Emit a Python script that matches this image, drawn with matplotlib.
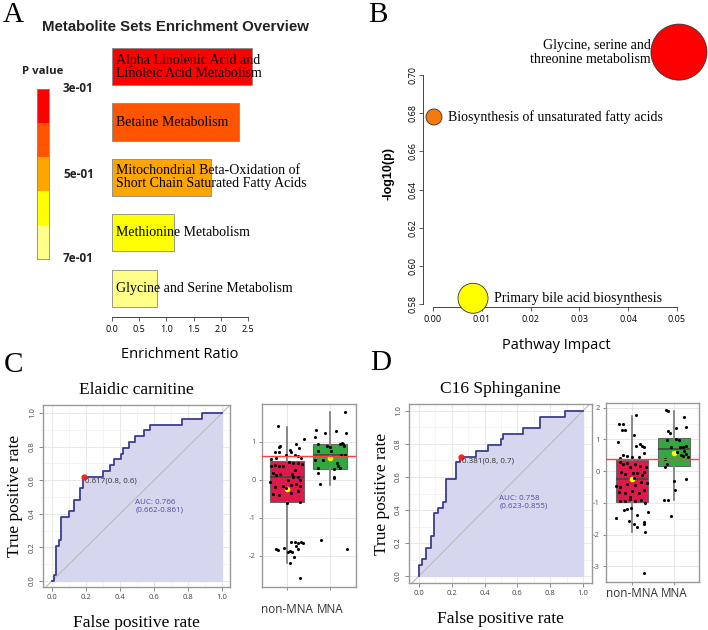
import numpy as np
import matplotlib
matplotlib.use("Agg")
import matplotlib.pyplot as plt
from matplotlib.colors import ListedColormap

SERIF = ["Liberation Serif", "DejaVu Serif"]
SANS = ["Open Sans", "DejaVu Sans"]

# ---- Panel A: enrichment overview
sets_a = ["Alpha Linolenic Acid and\nLinoleic Acid Metabolism",
          "Betaine Metabolism",
          "Mitochondrial Beta-Oxidation of\nShort Chain Saturated Fatty Acids",
          "Methionine Metabolism",
          "Glycine and Serine Metabolism"]
ratio_a = [2.57, 2.33, 1.82, 1.14, 0.83]
colors_a = ["#FF0000", "#FF5500", "#FFA500", "#FFFF00", "#FFFF88"]
pval_labels = ["3e-01", "5e-01", "7e-01"]

# ---- Panel B: pathway impact
paths_b = ["Glycine, serine and\nthreonine metabolism",
           "Biosynthesis of unsaturated fatty acids",
           "Primary bile acid biosynthesis"]
impact_b = [0.0504, 0.0002, 0.0082]
logp_b = [0.712, 0.678, 0.583]
size_b = [1625, 133, 467]
colors_b = ["#FF0000", "#F47A10", "#FFFF00"]

# ---- Panel C / D: ROC curves
fpr_c = [0, 0.01, 0.025, 0.04, 0.055, 0.098, 0.127, 0.167, 0.182, 0.30, 0.343,
         0.363, 0.406, 0.418, 0.451, 0.49, 0.539, 0.578, 0.765, 0.882, 1.0]
tpr_c = [0, 0.034, 0.207, 0.241, 0.379, 0.414, 0.483, 0.552, 0.621, 0.655, 0.690,
         0.724, 0.759, 0.793, 0.828, 0.862, 0.897, 0.931, 0.966, 1.0, 1.0]
fpr_d = [0, 0.0, 0.018, 0.045, 0.075, 0.089, 0.116, 0.146, 0.163, 0.224, 0.248,
         0.35, 0.42, 0.50, 0.512, 0.634, 0.736, 0.888, 1.0]
tpr_d = [0, 0.069, 0.103, 0.172, 0.241, 0.379, 0.414, 0.448, 0.586, 0.690, 0.724,
         0.759, 0.793, 0.828, 0.862, 0.897, 0.966, 1.0, 1.0]
best_c = (0.186, 0.621)
best_d = (0.254, 0.724)

# ---- box plots: (median, q1, q3, whisker low, whisker high, mean)
groups = ["non-MNA", "MNA"]
box_c = [(0.08, -0.59, 0.48, -2.2, 1.39, -0.24), (0.66, 0.29, 0.93, -0.13, 1.78, 0.56)]
box_d = [(-0.23, -0.97, 0.35, -1.91, 1.74, -0.26), (0.71, 0.18, 1.06, -0.91, 1.90, 0.58)]
cut_c = 0.62
cut_d = 0.37

# jittered points (offset from group, value)
pts_c_non = [(-0.22, 1.41), (-0.19, 0.85), (-0.16, 0.89), (-0.19, 0.74), (-0.29, 0.72),
             (-0.38, 0.55), (-0.26, 0.56), (0.06, 0.78), (0.09, 0.73), (0.20, 0.93),
             (0.27, 0.83), (0.39, 1.08), (0.19, 0.65), (0.26, 0.62), (0.33, 0.58),
             (-0.02, 0.65), (-0.36, 0.37), (-0.29, 0.39), (-0.19, 0.36), (-0.09, 0.37),
             (0.05, 0.46), (0.14, 0.45), (0.26, 0.43), (0.35, 0.41), (-0.33, 0.18),
             (-0.25, 0.12), (-0.17, 0.15), (0.12, 0.15), (0.19, 0.25), (0.26, 0.08),
             (0.31, -0.01), (-0.40, -0.07), (-0.29, -0.18), (-0.09, -0.17), (-0.03, -0.23),
             (0.10, -0.14), (0.22, -0.10), (0.29, -0.16), (-0.33, -0.38), (-0.19, -0.40),
             (0.09, -0.36), (0.26, -0.29), (0.29, -0.59), (0.0, -0.62), (0.14, 0.08),
             (0.02, -0.01), (-0.26, -1.81), (-0.20, -1.84), (-0.07, -1.80), (0.02, -1.89),
             (0.06, -1.87), (0.11, -1.91), (0.09, -1.65), (0.19, -1.64), (0.22, -1.74),
             (0.26, -1.67), (0.32, -1.65), (0.36, -1.66), (0.25, -1.82), (0.17, -2.03),
             (0.08, -2.19), (0.29, -2.59)]
pts_c_mna = [(0.35, 1.79), (0.36, 1.24), (-0.33, 1.31), (-0.12, 1.22), (0.14, 1.28),
             (-0.35, 1.11), (-0.29, 0.94), (-0.08, 0.89), (0.23, 0.94), (0.28, 0.96),
             (0.31, 0.93), (0.33, 0.89), (0.0, 0.85), (0.02, 0.76), (-0.29, 0.75),
             (0.26, 0.65), (0.35, 0.65), (-0.34, 0.52), (-0.29, 0.30), (-0.29, 0.17),
             (0.16, 0.43), (0.19, 0.36), (0.23, 0.32), (0.08, 0.27), (0.09, 0.08),
             (0.10, 0.04), (-0.23, -0.12), (-0.21, -1.59), (0.40, -1.83), (-0.16, 0.52)]
pts_d_non = [(0.09, 1.76), (-0.31, 1.48), (-0.21, 1.48), (-0.25, 1.31), (-0.17, 1.31),
             (-0.33, 0.91), (0.06, 1.13), (0.10, 0.79), (0.18, 0.85), (0.24, 0.79),
             (0.29, 0.75), (-0.21, 0.52), (-0.13, 0.47), (0.0, 0.45), (0.16, 0.45),
             (0.28, 0.58), (-0.28, 0.43), (-0.29, 0.29), (-0.21, 0.24), (-0.12, 0.26),
             (-0.04, 0.14), (0.08, 0.22), (0.20, 0.16), (0.34, 0.12), (-0.26, -0.02),
             (-0.16, -0.09), (0.02, -0.07), (0.13, -0.05), (0.28, -0.02), (-0.37, -0.47),
             (-0.28, -0.49), (-0.12, -0.41), (0.08, -0.44), (0.21, -0.34), (0.35, -0.37),
             (-0.31, -0.65), (-0.16, -0.70), (0.0, -0.62), (0.16, -0.70), (0.28, -0.60),
             (-0.29, -0.94), (-0.17, -0.94), (-0.04, -0.86), (0.08, -0.94), (0.21, -0.91),
             (0.31, -1.00), (-0.04, -0.81), (0.04, -0.20), (0.24, -0.13), (-0.18, -1.21),
             (-0.12, -1.18), (-0.02, -1.15), (-0.06, -1.56), (-0.39, -1.46), (0.39, -1.30),
             (0.12, -1.77), (0.04, -1.67), (0.29, -1.61), (0.28, -1.67), (0.30, -1.91),
             (0.28, -3.20), (0.13, -1.39)]
pts_d_mna = [(-0.19, 1.92), (-0.15, 1.89), (0.24, 1.72), (-0.13, 1.26), (-0.09, 1.22),
             (0.05, 1.37), (0.30, 1.39), (0.06, 1.01), (0.13, 0.98), (-0.16, 0.98),
             (-0.06, 0.75), (0.14, 0.77), (0.22, 0.77), (0.28, 0.81), (0.24, 0.63),
             (0.30, 0.54), (0.18, 0.50), (0.22, 0.47), (0.34, 0.45), (-0.21, 0.37),
             (-0.16, 0.22), (-0.21, 0.12), (0.0, -0.31), (0.02, -0.58), (-0.24, -0.91),
             (-0.13, -0.91), (-0.07, -1.42), (0.28, -0.23), (0.08, 0.61)]

W, H = 708, 630
fig = plt.figure(figsize=(W / 100, H / 100), dpi=100)


def px_axes(x0, y0, x1, y1):
    return fig.add_axes([x0 / W, 1 - y1 / H, (x1 - x0) / W, (y1 - y0) / H])


# panel letters
for letter, x, y in [("A", 3, 22), ("B", 368, 22), ("C", 4, 372), ("D", 370, 370)]:
    fig.text(x / W, 1 - y / H, letter, family=SERIF, fontsize=21, va="baseline")

# ================= A
ax = px_axes(112, 45, 262, 317)
ypos = np.arange(len(ratio_a))
ax.barh(ypos, ratio_a, height=0.67, color=colors_a, edgecolor="#888888", linewidth=0.6)
for y, lab in zip(ypos, sets_a):
    ax.text(0.07, y, lab, family=SERIF, fontsize=10, va="center", ha="left",
            linespacing=1.0, clip_on=False)
ax.set_ylim(4.52, -0.39)
ax.set_xlim(0, 2.5 * 150 / 136)
for s in ["left", "top", "right"]:
    ax.spines[s].set_visible(False)
ax.spines["bottom"].set_bounds(0, 2.5)
ax.spines["bottom"].set_color("#444444")
ax.spines["bottom"].set_linewidth(0.7)
ax.set_yticks([])
ax.set_xticks(np.arange(0, 2.6, 0.5))
ax.set_xticklabels([f"{v:.1f}" for v in np.arange(0, 2.6, 0.5)], family=SANS, fontsize=6.5)
ax.tick_params(axis="x", length=3, width=0.6, color="#444444", pad=3)
ax.set_xlabel("Enrichment Ratio", family=SANS, fontsize=10.5, labelpad=9, x=0.45)
fig.text(175 / W, 1 - 27 / H, "Metabolite Sets Enrichment Overview", family=["Liberation Sans"],
         fontsize=10.8, weight="bold", ha="center", va="center", color="#222222")

# colour key
cax = px_axes(37, 89, 49, 259)
cax.imshow(np.arange(5).reshape(5, 1), cmap=ListedColormap(colors_a), aspect="auto")
cax.set_xticks([])
cax.set_yticks([])
for s in cax.spines.values():
    s.set_color("#888888")
    s.set_linewidth(0.6)
fig.text(43 / W, 1 - 72 / H, "P value", family=SANS, fontsize=8.2, weight="bold",
         ha="center", va="center", color="#222222")
for lab, y in zip(pval_labels, [89, 174, 259]):
    fig.text(63 / W, 1 - y / H, lab, family=SANS, fontsize=8.5, weight="bold",
             ha="left", va="center", color="#222222")

# ================= B
bx = px_axes(423, 40, 690, 307)
bx.scatter(impact_b, logp_b, s=size_b, c=colors_b, edgecolors="#333333", linewidths=0.6,
           clip_on=False, zorder=3)
bx.set_xlim(-10 / 4880, 0.05 + 13 / 4880)
bx.set_ylim(0.58 - 3 / 1908, 0.70 + 35 / 1908)
for s in ["top", "right"]:
    bx.spines[s].set_visible(False)
bx.spines["left"].set_bounds(0.58, 0.70)
bx.spines["bottom"].set_bounds(0, 0.05)
for s in ["left", "bottom"]:
    bx.spines[s].set_color("#444444")
    bx.spines[s].set_linewidth(0.7)
bx.set_xticks(np.arange(0, 0.051, 0.01))
bx.set_xticklabels([f"{v:.2f}" for v in np.arange(0, 0.051, 0.01)], family=SANS, fontsize=6.5)
bx.set_yticks(np.arange(0.58, 0.701, 0.02))
bx.set_yticklabels([f"{v:.2f}" for v in np.arange(0.58, 0.701, 0.02)], family=SANS,
                   fontsize=6.5, rotation=90, va="center")
bx.tick_params(length=3, width=0.6, color="#444444", pad=3)
bx.tick_params(axis="y", pad=1)
bx.set_xlabel("Pathway Impact", family=SANS, fontsize=10.5, labelpad=10)
bx.set_ylabel("-log10(p)", family=["Liberation Sans"], fontsize=9, weight="bold", labelpad=10)
bx.text(impact_b[0] - 0.0058, logp_b[0], paths_b[0], family=SERIF, fontsize=10,
        ha="right", va="center", linespacing=1.1)
bx.text(impact_b[1] + 0.0028, logp_b[1], paths_b[1], family=SERIF, fontsize=10,
        ha="left", va="center")
bx.text(impact_b[2] + 0.0042, logp_b[2], paths_b[2], family=SERIF, fontsize=10,
        ha="left", va="center")


# ================= ROC panels
def roc_panel(box, xlim, ylim, fpr, tpr, best, best_lab, auc_lab, title):
    ax = px_axes(*box)
    ax.fill_between(fpr, tpr, step="post", color="#D6D7EE", zorder=1)
    ax.plot(fpr, tpr, drawstyle="steps-post", color="#3B3F8C", lw=1.3, zorder=3)
    ax.plot([-0.2, 1.2], [-0.2, 1.2], color="#BBBBBB", lw=0.8, zorder=2)
    ax.plot([best[0]], [best[1]], "o", color="#FF2020", ms=3.5, zorder=4)
    ax.text(best[0] + 0.01, best[1] - 0.005, best_lab, family=SANS, fontsize=5.8,
            color="#333333", va="top", zorder=5)
    ax.text(0.49, 0.49, auc_lab, family=SANS, fontsize=5.8, color="#4A4E9E",
            va="top", zorder=5, linespacing=1.1)
    ax.set_xlim(*xlim)
    ax.set_ylim(*ylim)
    ticks = np.arange(0, 1.01, 0.2)
    ax.set_xticks(ticks)
    ax.set_yticks(ticks)
    ax.set_xticks(np.arange(0.1, 1.0, 0.2), minor=True)
    ax.set_yticks(np.arange(0.1, 1.0, 0.2), minor=True)
    ax.set_xticklabels([f"{v:.1f}" for v in ticks], family=SANS, fontsize=5.5, color="#444444")
    ax.set_yticklabels([f"{v:.1f}" for v in ticks], family=SANS, fontsize=5.5, color="#444444",
                       rotation=90, va="center")
    ax.tick_params(which="major", length=3, width=0.6, color="#777777", pad=2)
    ax.tick_params(which="minor", length=0)
    ax.grid(which="major", color="#E4E4E4", lw=0.6)
    ax.grid(which="minor", color="#F0F0F0", lw=0.5)
    ax.set_axisbelow(True)
    for s in ax.spines.values():
        s.set_color("#999999")
        s.set_linewidth(1.0)
    ax.set_title(title, family=SERIF, fontsize=12.5, pad=8)
    ax.set_xlabel("False positive rate", family=SERIF, fontsize=12.5, labelpad=10)
    ax.set_ylabel("True positive rate", family=SERIF, fontsize=12.5, labelpad=4)


roc_panel((43, 405, 230, 587), (-0.053, 1.047), (-0.036, 1.048), fpr_c, tpr_c, best_c,
          "0.617(0.8, 0.6)", "AUC: 0.766\n(0.662-0.861)", "Elaidic carnitine")
roc_panel((409, 404, 592, 583), (-0.061, 1.055), (-0.042, 1.042), fpr_d, tpr_d, best_d,
          "0.381(0.8, 0.7)", "AUC: 0.758\n(0.623-0.855)", "C16 Sphinganine")


# ================= box panels
def box_panel(box, xlim, ylim, yticks, stats, cut, pts_non, pts_mna, xpad):
    ax = px_axes(*box)
    bstats = []
    for st in stats:
        med, q1, q3, lo, hi, mean = st
        bstats.append(dict(med=med, q1=q1, q3=q3, whislo=lo, whishi=hi, mean=mean, fliers=[]))
    ax.vlines([1, 2], [s[3] for s in stats], [s[4] for s in stats], color="#8A8A8A",
              lw=1.3, zorder=1)
    parts = ax.bxp(bstats, positions=[1, 2], widths=0.78, patch_artist=True, showcaps=False,
                   showfliers=False, showmeans=True, manage_ticks=False,
                   whiskerprops=dict(color="#8A8A8A", lw=1.3),
                   boxprops=dict(edgecolor="#666666", lw=0.8),
                   medianprops=dict(color="#444444", lw=1.2),
                   meanprops=dict(marker="o", markerfacecolor="#FFFF00", markeredgecolor="#FFFF00",
                                  markersize=3))
    for patch, col in zip(parts["boxes"], ["#DC1A4C", "#34A840"]):
        patch.set_facecolor(col)
        patch.set_zorder(2)
    for i, pts in enumerate([pts_non, pts_mna]):
        arr = np.array(pts)
        ax.scatter(arr[:, 0] + i + 1, arr[:, 1], s=5, color="black", zorder=4, linewidths=0)
    ax.axhline(cut, color="#FF4040", lw=1.0, zorder=5)
    ax.set_xlim(*xlim)
    ax.set_ylim(*ylim)
    ax.set_xticks([1, 2])
    ax.set_xticklabels(groups, family=SANS, fontsize=8.5, color="#333333")
    ax.set_yticks(yticks)
    ax.set_yticklabels([str(v) for v in yticks], family=SANS, fontsize=5.5, color="#555555")
    ax.set_yticks(np.array(yticks[:-1]) + 0.5, minor=True)
    ax.tick_params(which="major", length=2.5, width=0.6, color="#777777", pad=2)
    ax.tick_params(axis="x", pad=xpad)
    ax.tick_params(which="minor", length=0)
    ax.grid(which="major", color="#E4E4E4", lw=0.6)
    ax.grid(which="minor", axis="y", color="#F0F0F0", lw=0.5)
    ax.set_axisbelow(True)
    for s in ax.spines.values():
        s.set_color("#999999")
        s.set_linewidth(1.0)


box_panel((262, 404, 356, 587), (0.42, 2.6), (-2.82, 1.99), [-2, -1, 0, 1], box_c, cut_c,
          pts_c_non, pts_c_mna, 9)
box_panel((606, 403, 699, 582), (0.38, 2.6), (-3.49, 2.15), [-3, -2, -1, 0, 1, 2], box_d, cut_d,
          pts_d_non, pts_d_mna, 1)

fig.savefig("out.png", dpi=100, facecolor="white")
